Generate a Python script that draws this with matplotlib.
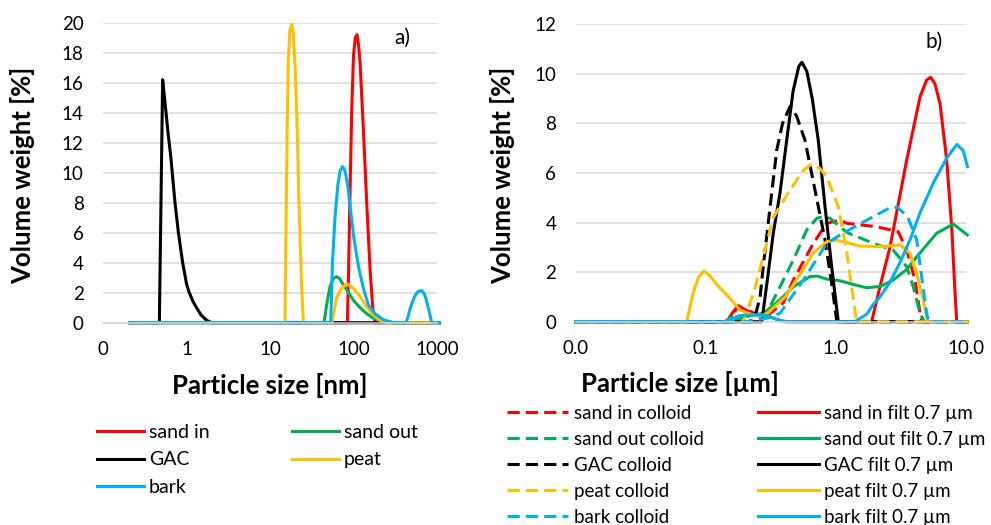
import matplotlib
matplotlib.use("Agg")
import matplotlib.pyplot as plt

plt.rcParams['font.family'] = ['Lato', 'DejaVu Sans']

RED = "#ff0000"
GREEN = "#00b050"
BLACK = "#000000"
YELLOW = "#ffc000"
BLUE = "#00b0f0"
GRID = "#d9d9d9"

# ---- panel a) particle size [nm] ----
sand_in_x = [0.21, 84.4, 87, 90, 95, 100, 105, 110, 115, 120, 131, 144, 158, 170, 181, 1070]
sand_in_y = [0, 0, 3, 7.5, 14, 17.8, 19.0, 19.2, 18.5, 17.3, 13, 8, 3.5, 1, 0, 0]

sand_out_x = [0.21, 44.4, 47.7, 52.3, 57.3, 62.9, 68, 72.1, 82.8, 99.5, 120, 144, 173, 228, 300, 1070]
sand_out_y = [0, 0, 1.2, 2.4, 2.95, 3.07, 2.95, 2.7, 2.2, 1.5, 1.0, 0.6, 0.3, 0.1, 0, 0]

gac_x = [0.21, 0.473, 0.518, 0.55, 0.60, 0.65, 0.728, 0.80, 0.90, 1.0, 1.08, 1.2, 1.32, 1.5, 1.75, 2.0, 1070]
gac_y = [0, 0, 16.2, 14.8, 12.7, 11, 8, 6, 4, 2.6, 2, 1.4, 1, 0.5, 0.15, 0, 0]

peat_x = [0.21, 15.1, 15.6, 16.1, 16.6, 17.3, 18.2, 19.0, 20.0, 20.9, 22.5, 23.9, 25.1,
          55, 63, 72, 83, 99.5, 120, 144, 173, 208, 250, 1070]
peat_y = [0, 0, 7, 13.5, 17.5, 19.5, 19.9, 19.3, 17, 14, 7, 2.5, 0,
          0, 1.7, 2.3, 2.6, 2.3, 1.75, 1.05, 0.5, 0.15, 0, 0]

bark_x = [0.21, 53.3, 56, 60, 65, 69, 74, 78, 81.3, 86, 90.8, 101.4, 114.3, 131.2, 150.6,
          181, 228, 300, 426, 450, 475, 510, 545, 600, 655, 700, 738, 770, 809, 840, 863, 1070]
bark_y = [0, 0, 4, 7, 9.2, 10.1, 10.4, 10.2, 9.8, 9, 7.8, 5.6, 3.8, 2.3, 1.2,
          0.6, 0.2, 0, 0, 0.4, 0.9, 1.4, 1.8, 2.1, 2.15, 1.95, 1.6, 1.2, 0.7, 0.3, 0, 0]

# ---- panel b) particle size [um] ----
sic_x = [0.01, 0.154, 0.173, 0.207, 0.262, 0.313, 0.395, 0.472, 0.673, 0.853, 1.08, 1.22,
         2.07, 3.03, 3.52, 4.07, 4.46, 4.6, 10.3]
sic_y = [0, 0, 0.55, 0.5, 0.2, 0.34, 0.75, 1.68, 3.16, 3.97, 4.1, 3.97,
         3.83, 3.63, 2.89, 1.68, 0.34, 0, 0]

sif_x = [0.01, 0.145, 0.163, 0.178, 0.207, 0.247, 0.294, 0.373, 0.42,
         1.89, 2.19, 2.62, 3.52, 4.46, 5.0, 5.38, 5.8, 6.34, 7.14, 7.8, 8.28, 8.53, 10.3]
sif_y = [0, 0, 0.4, 0.65, 0.45, 0.3, 0.25, 0.05, 0,
         0, 1.41, 3.03, 6.53, 9.08, 9.75, 9.86, 9.6, 8.81, 6.53, 3.83, 1.15, 0, 0]

soc_x = [0.01, 0.14, 0.16, 0.22, 0.27, 0.294, 0.373, 0.472, 0.598, 0.715, 0.8, 0.904,
         1.22, 1.95, 2.77, 3.52, 3.95, 4.46, 4.8, 10.3]
soc_y = [0, 0, 0.2, 0.25, 0.3, 0.34, 1.41, 2.49, 3.7, 4.17, 4.24, 4.17,
         3.6, 3.16, 2.89, 2.22, 1.41, 0.34, 0, 0]

sof_x = [0.01, 0.16, 0.2, 0.278, 0.373, 0.472, 0.634, 0.72, 0.853, 1.08, 1.37, 1.73,
         2.19, 2.77, 3.5, 4.2, 5.98, 8.04, 10.3]
sof_y = [0, 0, 0.2, 0.34, 0.88, 1.41, 1.82, 1.84, 1.72, 1.65, 1.5, 1.37,
         1.42, 1.68, 2.1, 2.62, 3.57, 3.94, 3.5]

gc_x = [0.01, 0.22, 0.245, 0.262, 0.277, 0.313, 0.352, 0.39, 0.445, 0.50, 0.58,
        0.693, 0.828, 0.931, 1.0, 1.02, 10.3]
gc_y = [0, 0, 0.4, 1.0, 2.22, 4.64, 6.93, 8.0, 8.68, 8.3, 7.33,
        5.31, 3.3, 1.55, 0.34, 0, 0]

gf_x = [0.01, 0.27, 0.30, 0.331, 0.373, 0.42, 0.47, 0.52, 0.55, 0.60, 0.66,
        0.734, 0.828, 0.931, 1.047, 10.3]
gf_y = [0, 0, 1.8, 3.57, 5.2, 7.33, 9.3, 10.3, 10.47, 10.1, 9.0,
        7.33, 4.64, 2.22, 0, 0]

pc_x = [0.01, 0.195, 0.233, 0.27, 0.331, 0.42, 0.56, 0.65, 0.75, 0.853, 1.047,
        1.22, 1.37, 1.45, 10.3]
pc_y = [0, 0, 1.15, 2.4, 4.2, 5.1, 6.1, 6.35, 6.2, 5.85, 4.64,
        2.76, 0.88, 0, 0]

pf_x = [0.01, 0.0714, 0.08, 0.088, 0.097, 0.108, 0.1216, 0.154, 0.184, 0.231, 0.262,
        0.30, 0.41, 0.53, 0.67, 0.853, 1.0, 1.54, 2.32, 3.13, 3.73, 4.2, 4.72, 5.1, 10.3]
pf_y = [0, 0, 1.15, 1.8, 2.05, 1.85, 1.5, 0.94, 0.47, 0.27, 0.22,
        0.35, 1.0, 1.9, 2.76, 3.23, 3.3, 3.05, 3.03, 3.1, 2.76, 1.95, 0.88, 0, 0]

bc_x = [0.01, 0.2, 0.3, 0.373, 0.564, 0.853, 1.14, 1.95, 2.62, 3.0, 3.6,
        4.2, 4.58, 5.01, 5.2, 10.3]
bc_y = [0, 0, 0.15, 0.34, 1.68, 3.16, 3.57, 4.24, 4.6, 4.62, 4.2,
        3.3, 1.82, 0.34, 0, 0]

bf_x = [0.01, 0.145, 0.163, 0.184, 0.233, 0.294, 0.35, 0.407,
        1.40, 1.73, 1.95, 2.19, 2.62, 3.13, 3.73, 4.46, 5.64, 7.14, 8.53, 9.59, 10.3]
bf_y = [0, 0, 0.15, 0.25, 0.28, 0.25, 0.1, 0,
        0, 0.3, 0.7, 1.0, 1.6, 2.4, 3.3, 4.4, 5.6, 6.6, 7.15, 6.9, 6.26]

left_ticks = [0.1, 1, 10, 100, 1000]
left_ticklabels = ["0", "1", "10", "100", "1000"]
right_ticks = [0.01, 0.1, 1, 10]
right_ticklabels = ["0.0", "0.1", "1.0", "10.0"]

W, H = 991, 525
LW = 2.2
DASH = (0, (4, 2))


def style_axes(ax, ymax, ticks, ticklabels):
    ax.set_xscale("log")
    ax.set_xlim(ticks[0], ticks[-1])
    ax.set_ylim(0, ymax)
    ax.set_yticks(range(0, ymax + 1, 2))
    ax.set_xticks(ticks)
    ax.set_xticklabels(ticklabels)
    ax.minorticks_off()
    ax.yaxis.grid(True, color=GRID, lw=1.1)
    ax.set_axisbelow(True)
    for s in ("top", "right", "left"):
        ax.spines[s].set_visible(False)
    ax.spines["bottom"].set_color(GRID)
    ax.spines["bottom"].set_linewidth(1.1)
    ax.tick_params(length=0, labelsize=13.5, colors="black")
    ax.tick_params(axis="y", pad=14)
    ax.tick_params(axis="x", pad=13)


fig = plt.figure(figsize=(W / 100, H / 100), dpi=100)

ax1 = fig.add_axes([103 / W, 1 - 322.7 / H, 334 / W, 300 / H])
style_axes(ax1, 20, left_ticks, left_ticklabels)
left_series = [
    (sand_in_x, sand_in_y, RED, "sand in"),
    (sand_out_x, sand_out_y, GREEN, "sand out"),
    (gac_x, gac_y, BLACK, "GAC"),
    (peat_x, peat_y, YELLOW, "peat"),
    (bark_x, bark_y, BLUE, "bark"),
]
h1 = {}
for x, y, c, lab in left_series:
    h1[lab], = ax1.plot(x, y, color=c, lw=LW, label=lab, clip_on=False,
                        solid_joinstyle="round")
ax1.text(0.895, 0.95, "a)", transform=ax1.transAxes, fontsize=15,
         ha="center", va="center")

ax2 = fig.add_axes([575.7 / W, 1 - 321.7 / H, 390 / W, 297.4 / H])
style_axes(ax2, 12, right_ticks, right_ticklabels)
right_series = [
    (sic_x, sic_y, sif_x, sif_y, RED, "sand in"),
    (soc_x, soc_y, sof_x, sof_y, GREEN, "sand out"),
    (gc_x, gc_y, gf_x, gf_y, BLACK, "GAC"),
    (pc_x, pc_y, pf_x, pf_y, YELLOW, "peat"),
    (bc_x, bc_y, bf_x, bf_y, BLUE, "bark"),
]
col_handles, filt_handles = [], []
for cx, cy, fx, fy, c, lab in right_series:
    hc, = ax2.plot(cx, cy, color=c, lw=LW, ls=DASH, clip_on=False,
                   label=lab + " colloid")
    hf, = ax2.plot(fx, fy, color=c, lw=LW, clip_on=False,
                   label=lab + " filt 0.7 \u00b5m", solid_joinstyle="round")
    col_handles.append(hc)
    filt_handles.append(hf)
ax2.text(0.92, 0.94, "b)", transform=ax2.transAxes, fontsize=15,
         ha="center", va="center")

# axis titles
for xc in (23, 503):
    fig.text(xc / W, 1 - 175 / H, "Volume weight [%]", rotation=90,
             fontsize=18.5, fontweight="bold", ha="center", va="center")
fig.text(270 / W, 1 - 385 / H, "Particle size [nm]", fontsize=18.5,
         fontweight="bold", ha="center", va="center")
fig.text(680 / W, 1 - 383 / H, "Particle size [\u00b5m]", fontsize=18.5,
         fontweight="bold", ha="center", va="center")

# legends
lh = [h1["sand in"], h1["GAC"], h1["bark"], h1["sand out"], h1["peat"]]
fig.legend(lh, [h.get_label() for h in lh], loc="upper left",
           bbox_to_anchor=(97 / W, 1 - 424 / H), ncol=2, frameon=False,
           fontsize=14, handlelength=2.4, handletextpad=0.26,
           columnspacing=4.25, labelspacing=0.53, borderpad=0, borderaxespad=0)

rh = col_handles + filt_handles
fig.legend(rh, [h.get_label() for h in rh], loc="upper left",
           bbox_to_anchor=(507 / W, 1 - 405 / H), ncol=2, frameon=False,
           fontsize=13.5, handlelength=3.25, handletextpad=0.3,
           columnspacing=2.9, labelspacing=0.48, borderpad=0, borderaxespad=0)

fig.savefig("out.png", dpi=100)
